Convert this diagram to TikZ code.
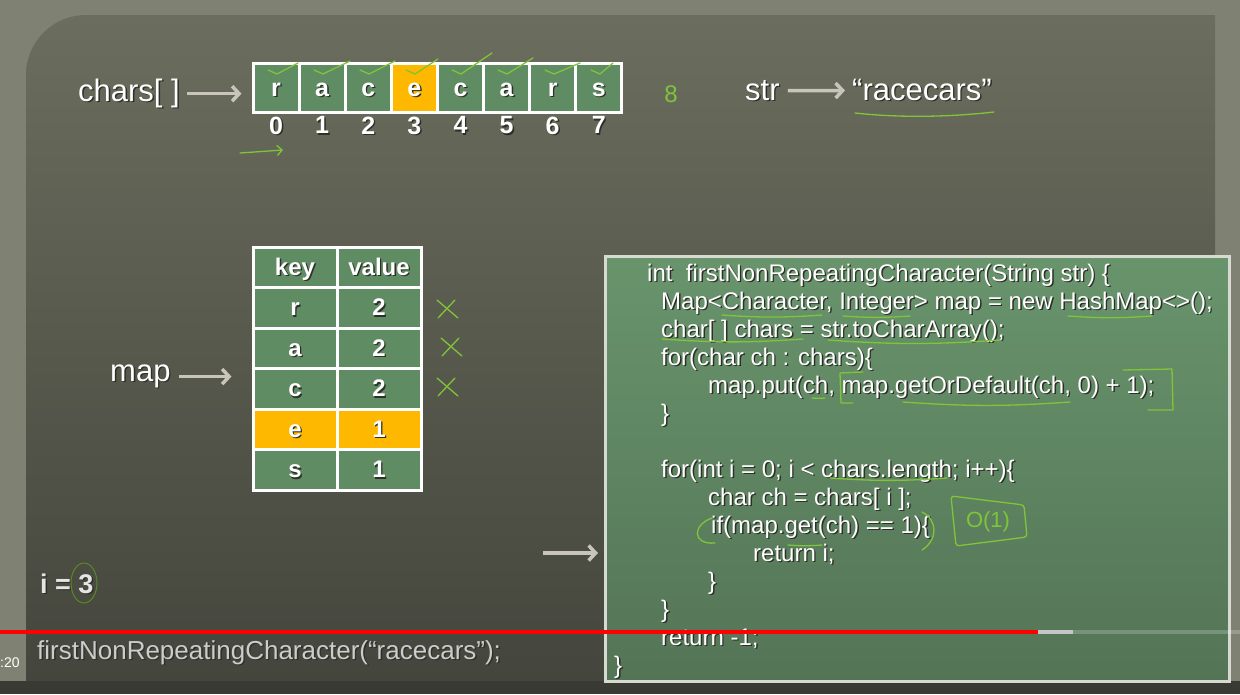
\documentclass[tikz,border=0pt]{standalone}
\usepackage{fontspec}
\setmainfont{Liberation Sans}
\usepackage{tikz}
\definecolor{rahmen}{RGB}{127,130,114}
\definecolor{tafelhell}{RGB}{107,109,94}
\definecolor{tafeldunkel}{RGB}{68,69,60}
\definecolor{zellgruen}{RGB}{96,140,100}
\definecolor{codegruen}{RGB}{104,148,108}
\definecolor{codedunkel}{RGB}{84,116,86}
\definecolor{myorange}{RGB}{254,184,0}
\definecolor{kreide}{RGB}{200,198,188}
\definecolor{stiftgruen}{RGB}{128,196,58}
\definecolor{schatten}{RGB}{45,48,40}
\usetikzlibrary{arrows.meta,positioning}
\newcommand{\sch}[1]{\leavevmode\rlap{\kern1.4pt\raisebox{-1.4pt}{\textcolor{schatten}{#1}}}#1}

\begin{document}
\begin{tikzpicture}[x=1pt, y=-1pt,
			>={Straight Barb[length=7pt,width=15pt]},   % Kreidepfeile
			zelle/.style={draw=white, line width=3pt, fill=zellgruen, text=white, inner sep=0pt, minimum width=46.1pt, minimum height=49pt, text height=17pt, text depth=0pt, font=\fontsize{25}{25}\selectfont\bfseries},
			titel/.style={text=white, inner sep=0pt, anchor=base west, font=\fontsize{31}{31}\selectfont},
			code/.style={text=white, inner sep=0pt, anchor=base west, font=\fontsize{24}{24}\selectfont},
			kreidepfeil/.style={->, draw=kreide, line width=3.5pt},
			stift/.style={draw=stiftgruen, line width=1.3pt, line cap=round, line join=round}]
			\useasboundingbox (0,0) rectangle (1240,694);
			% Tafel zeichnen
			\fill[rahmen] (0,0) rectangle (1240,694);
			\shade[top color=tafelhell, bottom color=tafeldunkel] (26,681) -- (26,75) arc[start angle=180, end angle=90, radius=60pt] -- (1215,15) -- (1215,681) -- cycle;
			\fill[black!55!rahmen] (0,681) rectangle (1240,694);
			% Array chars[]
			\foreach \i/\ch/\farbe in {0/r/zellgruen,1/a/zellgruen,2/c/zellgruen,3/e/myorange,4/c/zellgruen,5/a/zellgruen,6/r/zellgruen,7/s/zellgruen}{
				\node[zelle, fill=\farbe] (c\i) at ({276.05+46.1*\i},87.5) {\sch{\ch}};
				\node[text=white, inner sep=0pt, below=3pt of c\i, font=\fontsize{25}{25}\selectfont\bfseries] (n\i) {\sch{\i}};
			}
			\node[titel] (charsl) at (78,101) {\sch{chars[ ]}};
			\draw[kreidepfeil, shorten <=7pt, shorten >=10pt] (charsl.east) -- (charsl.east -| c0.west);
			\node[titel] (str) at (745,100) {\sch{str}};
			\node[titel] (wort) at (852,100) {\sch{“racecars”}};
			\draw[kreidepfeil, shorten <=8pt, shorten >=7pt] (str) -- (wort);
			% Tabelle map
			\foreach \k/\v/\y/\farbe [count=\n from 0] in {key/value/267.25/zellgruen,r/2/307.75/zellgruen,a/2/348.25/zellgruen,c/2/388.75/zellgruen,e/1/429.25/myorange,s/1/469.75/zellgruen}{
				\node[zelle, fill=\farbe, minimum width=84pt, minimum height=40.5pt, text height=16pt, font=\fontsize{24}{24}\selectfont\bfseries] (k\n) at (295,\y) {\sch{\k}};
				\node[zelle, fill=\farbe, minimum width=84pt, minimum height=40.5pt, text height=16pt, font=\fontsize{24}{24}\selectfont\bfseries] (v\n) at (379,\y) {\sch{\v}};
			}
			\node[titel] (mapl) at (110,381) {\sch{map}};
			\draw[kreidepfeil, shorten <=8pt, shorten >=20pt] (mapl.east) -- (mapl.east -| k0.west);
			% Code
			\node[draw={rgb,255:red,214;green,218;blue,208}, line width=3pt, top color=codegruen, bottom color=codedunkel, inner sep=0pt, minimum width=624pt, minimum height=425pt, anchor=north west] (codebox) at (604,255) {};
			\foreach \x/\y/\zeile [count=\z] in {647/281/{int~~firstNonRepeatingCharacter(String str) \{},
				661/309/{Map<Character, Integer> map = new HashMap<>();},
				661/337/{char[ ] chars = str.toCharArray();},
				661/365/{for(char ch : chars)\{},
				708/393/{map.put(ch, map.getOrDefault(ch, 0) + 1);},
				661/421/{\}},
				661/477/{for(int i = 0; i < chars.length; i++)\{},
				708/505/{char ch = chars[ i ];},
				711/533/{if(map.get(ch) == 1)\{},
				753/561/{return i;},
				708/589/{\}},
				661/617/{\}},
				661/645/{return -1;},
				614/673/{\}}}
				\node[code] (z\z) at (\x,\y) {\sch{\zeile}};
			\coordinate (zeiger) at (543,553);
			\draw[kreidepfeil, shorten >=6pt] (zeiger) -- (zeiger -| codebox.west);
			% Aufruf unten
			\node[titel, text=gray!20, font=\fontsize{27}{27}\selectfont\bfseries] (ivar) at (40,593) {\sch{i = 3}};
			\node[titel, text=gray!40, font=\fontsize{26}{26}\selectfont] (aufruf) at (37,659) {\sch{firstNonRepeatingCharacter(“racecars”);}};
			% Fortschrittsbalken
			\draw[red, line width=4pt] (0,632) -- (1038,632);
			\draw[gray!45, line width=4pt] (1038,632) -- (1073,632);
			\draw[white, opacity=.2, line width=4pt] (1073,632) -- (1240,632);
			\node[text=white, inner sep=0pt, anchor=base west, font=\fontsize{14}{14}\selectfont] (zeit) at (0,667) {:20};
			% Stiftnotizen
			\foreach \x/\e/\h in {276/22/63,322/28/61,368/27/61,414/24/59,460/32/53,506/27/58,553/27/63,599/14/63}
				\draw[stift] (\x-8,70) -- (\x+1,74) -- (\x+\e,\h);
			\draw[stift, -{Straight Barb[length=5pt,width=10pt]}] (240,153) -- (283,150);
			\node[text=stiftgruen, font=\fontsize{24}{24}\selectfont] (acht) at (671,94) {8};
			\draw[stift] (855,113) .. controls (900,118) and (950,117) .. (994,112);
			\foreach \x/\y in {447/309,451/347,447/387}{
				\draw[stift] (\x-10,\y-9) -- (\x+11,\y+9);
				\draw[stift] (\x+8,\y-9) -- (\x-9,\y+9);
			}
			\foreach \a/\b/\y in {722/822/315,843/910/316,1068/1152/316,662/803/339,828/1000/340,812/825/398,903/1070/402,830/947/478,788/822/545}
				\draw[stift] (\a,\y) to[bend right=4] (\b,\y);
			\draw[stift] (863,372) -- (840,373) -- (841,403) -- (853,403);
			\draw[stift] (1123,370) -- (1172,369) -- (1173,410) -- (1148,410);
			\draw[stift] (712,518) .. controls (692,525) and (692,545) .. (715,543);
			\draw[stift] (922,512) .. controls (938,520) and (938,540) .. (922,550);
			\draw[stift, rounded corners=3pt] (951,496) -- (1024,505) -- (1027,537) -- (956,546) -- cycle;
			\node[text=stiftgruen, font=\fontsize{22}{22}\selectfont] (oeins) at (988,522) {O(1)};
			\draw[stift, draw=stiftgruen!70!black, line width=1pt] (84,583) ellipse [x radius=13pt, y radius=20pt];
		\end{tikzpicture}
\end{document}
